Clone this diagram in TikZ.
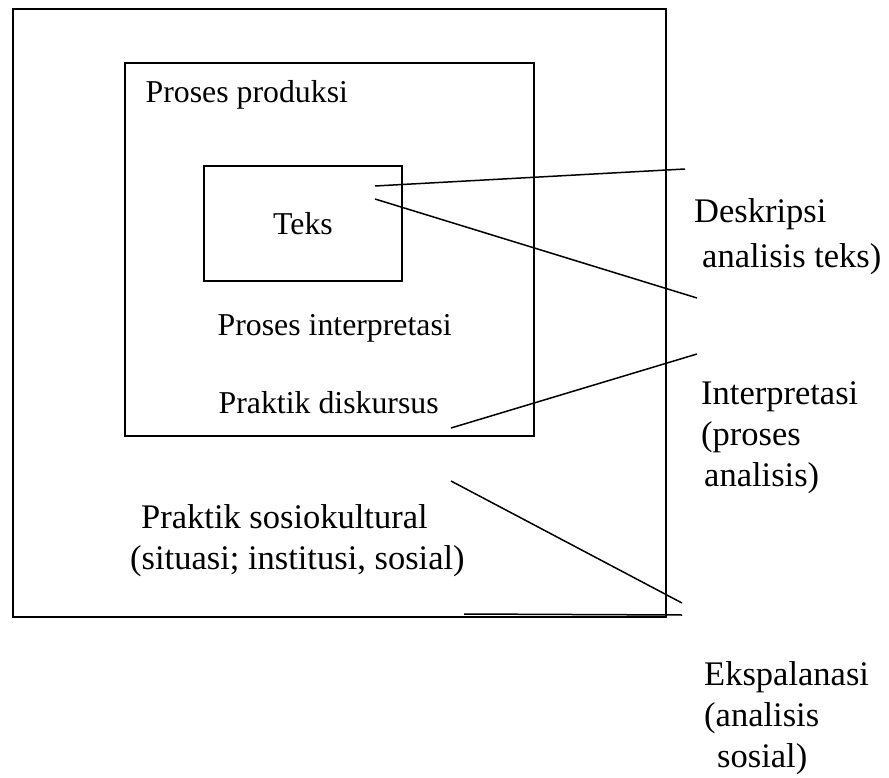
\documentclass[tikz,border=0pt]{standalone}
\usepackage{fontspec}
\setmainfont{Liberation Serif}
\usetikzlibrary{positioning}

\begin{document}
\begin{tikzpicture}[
    x=1pt, y=-1pt,
    box/.style={draw, line width=1.8pt, rectangle, inner sep=0pt},
    inlabel/.style={font=\fontsize{31.8}{38}\selectfont, inner sep=0pt, anchor=base west},
    outlabel/.style={font=\fontsize{34.5}{41}\selectfont, inner sep=0pt, align=left, anchor=north west},
    link/.style={line width=1.5pt}
]
    \useasboundingbox (0,0) rectangle (889,778);

    % Boxes
    \node[box, minimum width=653pt, minimum height=608pt] (sosio) at (339.5,313) {};
    \node[box, minimum width=409pt, minimum height=373pt] (diskursus) at (329.5,249.5) {};
    \node[box, minimum width=198pt, minimum height=115pt, font=\fontsize{31.8}{38}\selectfont] (teks) at (303,223.5) {Teks};

    % Labels inside
    \node[inlabel] (produksi) at (145.5,103) {Proses produksi};
    \node[inlabel] (interpretasi) at (217.5,335) {Proses interpretasi};
    \node[inlabel] (praktik) at (218.5,413) {Praktik diskursus};
    \node[outlabel] (kultural) at (130,504) {\hspace{11pt}Praktik sosiokultural\\(situasi; institusi, sosial)};

    % Labels outside
    \node[outlabel, font=\fontsize{34.5}{45}\selectfont] (deskripsi) at (694,198) {Deskripsi\\\hspace{8pt}analisis teks)};
    \node[outlabel] (interp) at (701,381) {Interpretasi\\(proses\\\hspace{3pt}analisis)};
    \node[outlabel] (eksplanasi) at (704,661) {Ekspalanasi\\(analisis\\\hspace{13pt}sosial)};

    % Line ends
    \coordinate (teks-a) at (375,186);
    \coordinate (teks-b) at (375,199);
    \coordinate (desk-a) at (685,169);
    \coordinate (desk-b) at (697,298);
    \coordinate (disk) at (451,428);
    \coordinate (interp-a) at (697,354);
    \coordinate (sosio-a) at (451,481);
    \coordinate (sosio-b) at (464,614);
    \coordinate (eksp-a) at (682,603);
    \coordinate (eksp-b) at (682,615);

    % Lines
    \draw[link] (teks-a) -- (desk-a);
    \draw[link] (teks-b) -- (desk-b);
    \draw[link] (disk) -- (interp-a);
    \draw[link] (sosio-a) -- (eksp-a);
    \draw[link] (sosio-b) -- (eksp-b);
\end{tikzpicture}
\end{document}
